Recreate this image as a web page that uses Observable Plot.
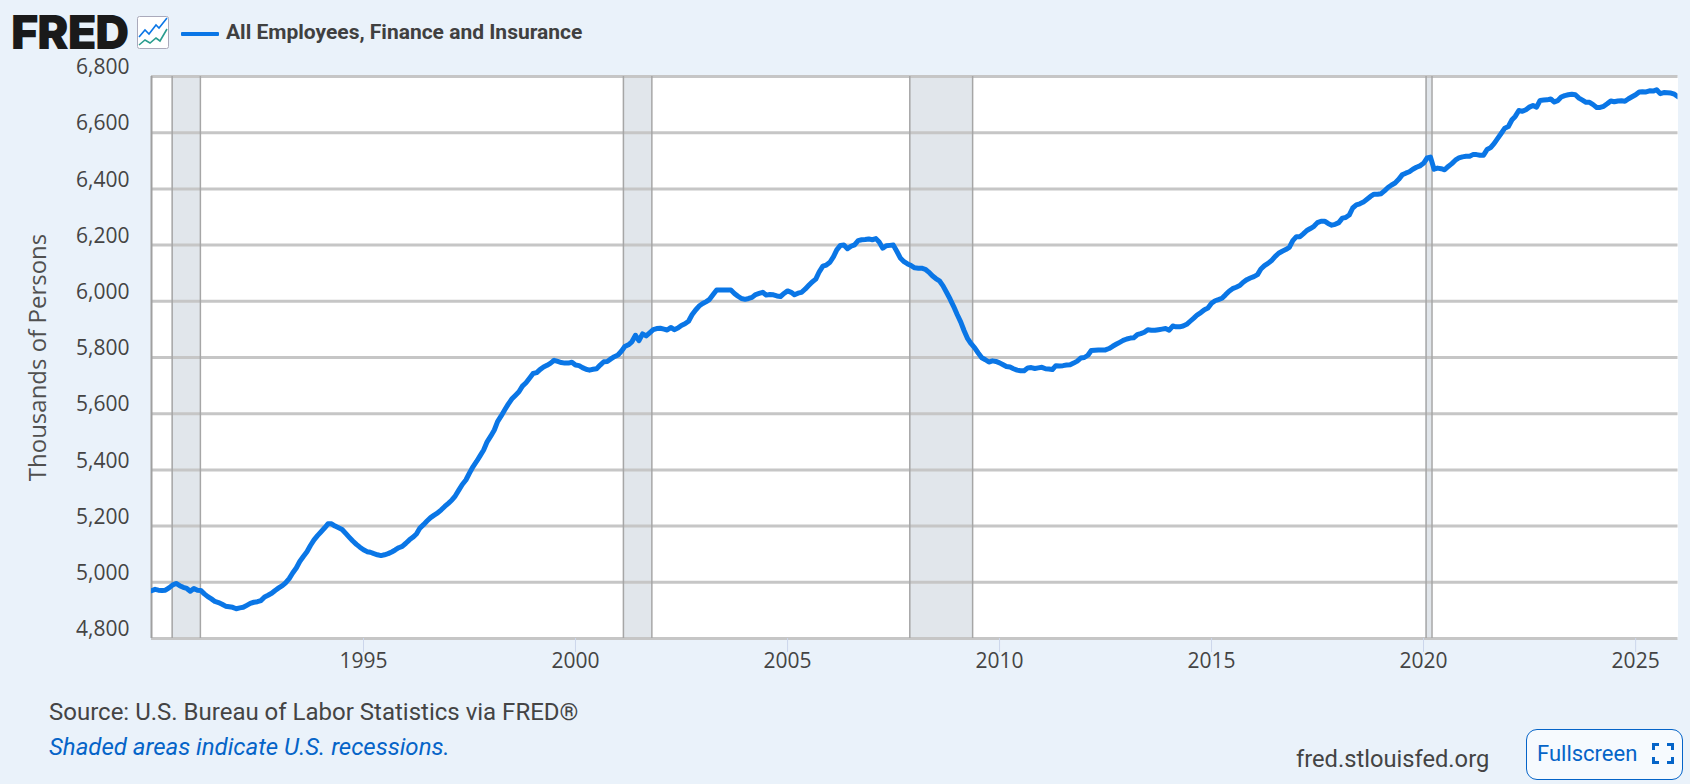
<!DOCTYPE html>
<html>
<head>
<meta charset="utf-8">
<script src="https://cdn.jsdelivr.net/npm/d3@7"></script>
<script src="https://cdn.jsdelivr.net/npm/@observablehq/plot@0.6"></script>
<style>
  html, body { margin: 0; padding: 0; background: #eaf2fa; }
  #page { position: relative; width: 1690px; height: 784px; overflow: hidden; background: #eaf2fa; font-family: Roboto, sans-serif; }
  #page > * { position: absolute; }
  #logo { left: 11px; top: 15px; font: 900 47px/34px Inter, Roboto, sans-serif; letter-spacing: -1.1px; color: #1a1a1a; }
  #icon { left: 137px; top: 16px; width: 32px; height: 33px; }
  #swatch { left: 181px; top: 31.5px; width: 38px; height: 4.5px; background: #0a76e6; border-radius: 1px; }
  #title { left: 226px; top: 20px; font: 700 21px/24px Roboto, sans-serif; color: #404040; white-space: nowrap; }
  #chart { left: 0; top: 50px; }
  #source { left: 49px; top: 698px; font: 400 24px/28px Roboto, sans-serif; color: #444; white-space: nowrap; }
  #shaded { left: 49px; top: 733px; font: italic 400 24px/28px Roboto, sans-serif; color: #0564c8; white-space: nowrap; }
  #site { left: 1296px; top: 746px; font: 400 23.7px/26px Roboto, sans-serif; color: #444; white-space: nowrap; }
  #full { left: 1526px; top: 729px; width: 155px; height: 49px; box-sizing: content-box; border: 1px solid #0564c8; border-radius: 11px; background: #f6fafe; }
  #full span { position: absolute; left: 10px; top: 11px; font: 400 22px/26px Roboto, sans-serif; color: #0564c8; white-space: nowrap; }
  #full svg { position: absolute; left: 125px; top: 13px; width: 22px; height: 21px; }
</style>
</head>
<body>
<div id="page">
  <div id="logo">FRED</div>
  <svg id="icon" viewBox="0 0 32 33">
    <rect x="0.5" y="0.5" width="31" height="32" rx="2" fill="#fff" stroke="#aab"/>
    <polyline points="2,21 8,14 12,18 19,9 22,12 30,2" fill="none" stroke="#0a76e6" stroke-width="1.6"/>
    <polyline points="2,29 8,24 13,27 19,22 23,25 30,13" fill="none" stroke="#2a9d8f" stroke-width="1.6"/>
  </svg>
  <div id="swatch"></div>
  <div id="title">All Employees, Finance and Insurance</div>
  <div id="chart"></div>
  <div id="source">Source: U.S. Bureau of Labor Statistics via FRED®</div>
  <div id="shaded">Shaded areas indicate U.S. recessions.</div>
  <div id="site">fred.stlouisfed.org</div>
  <div id="full"><span>Fullscreen</span>
    <svg viewBox="0 0 22 21"><path d="M1.5 7V1.5H7M15 1.5H20.5V7M20.5 14V19.5H15M7 19.5H1.5V14" fill="none" stroke="#0564c8" stroke-width="3"/></svg>
  </div>
</div>
<script>
const startYear = 1990;
const values1990s = [
  4970,4975,4972,4971,4972,4980,4990,4996,4988,4982,4978,4968,
  4978,4972,4971,4959,4949,4941,4932,4928,4922,4915,4913,4911,
  4906,4909,4911,4918,4925,4929,4931,4935,4948,4954,4961,4971,
  4980,4988,4998,5013,5033,5051,5074,5092,5109,5131,5151,5166,
  5180,5194,5208,5208,5200,5194,5188,5174,5160,5147,5135,5125,
  5116,5109,5107,5102,5098,5095,5098,5102,5108,5115,5123,5128,
  5139,5151,5160,5172,5193,5205,5218,5230,5239,5247,5258,5270,
  5281,5293,5307,5328,5348,5364,5388,5411,5430,5450,5471,5500,
  5520,5542,5572,5592,5613,5634,5652,5665,5678,5698,5710,5726,
  5743,5746,5757,5766,5772,5780,5790,5786,5782,5780,5780,5783
];
const values2000s = [
  5773,5771,5764,5758,5755,5758,5760,5773,5785,5786,5795,5803,
  5809,5823,5839,5845,5856,5879,5860,5884,5877,5888,5899,5903,
  5904,5901,5898,5907,5899,5905,5914,5920,5929,5952,5969,5983,
  5992,5999,6007,6024,6040,6040,6040,6040,6040,6028,6018,6010,
  6007,6010,6014,6024,6028,6032,6022,6024,6023,6019,6017,6028,
  6037,6032,6023,6029,6032,6043,6056,6069,6079,6105,6125,6129,
  6139,6159,6183,6199,6200,6187,6196,6201,6216,6219,6220,6222,
  6219,6223,6211,6189,6198,6199,6200,6177,6153,6141,6133,6127,
  6119,6118,6118,6114,6104,6091,6081,6073,6055,6032,6008,5982,
  5953,5926,5896,5867,5849,5834,5816,5799,5792,5784,5788,5786
];
const values2010s = [
  5781,5774,5768,5766,5760,5755,5753,5753,5763,5764,5761,5763,
  5765,5760,5759,5757,5771,5770,5771,5773,5774,5780,5787,5798,
  5800,5808,5825,5826,5827,5827,5827,5832,5840,5847,5854,5861,
  5866,5869,5870,5881,5885,5890,5899,5897,5897,5899,5901,5903,
  5897,5912,5909,5909,5912,5918,5929,5940,5952,5960,5970,5976,
  5993,6002,6006,6011,6023,6036,6045,6050,6056,6068,6077,6083,
  6088,6095,6115,6127,6135,6145,6159,6171,6178,6184,6192,6216,
  6230,6230,6240,6252,6259,6267,6280,6285,6285,6277,6271,6274,
  6280,6296,6298,6307,6332,6343,6347,6353,6363,6373,6381,6381,
  6383,6394,6405,6414,6421,6434,6450,6456,6461,6470,6477,6482
];
const values2020s = [
  6491,6510,6513,6470,6474,6472,6468,6480,6490,6502,6510,6514,
  6516,6516,6522,6522,6520,6520,6540,6547,6562,6580,6598,6616,
  6622,6646,6658,6679,6676,6682,6691,6697,6691,6715,6716,6717,
  6720,6709,6714,6727,6732,6735,6737,6735,6723,6716,6708,6708,
  6700,6690,6690,6694,6703,6713,6710,6713,6714,6712,6721,6728,
  6735,6745,6746,6745,6749,6748,6753,6739,6743,6742,6741,6737,
  6728
];
const recessionStarts = ["1990-06-28","2001-02-17","2007-11-20","2020-01-23"];
const recessionEnds   = ["1991-02-26","2001-10-20","2009-05-14","2020-03-14"];
const yTicks = [4800,5000,5200,5400,5600,5800,6000,6200,6400,6600,6800];
const xTickYears = [1995,2000,2005,2010,2015,2020,2025];
const xDomain = ["1990-01-01","2026-01-01"];
const yDomain = [4800,6800];

const series = [...values1990s, ...values2000s, ...values2010s, ...values2020s]
  .map((value, i) => ({date: new Date(Date.UTC(startYear, i, 1)), value}));
const recessions = recessionStarts.map((s, i) => ({start: new Date(s), end: new Date(recessionEnds[i])}));
const recessionEdges = recessions.flatMap(r => [r.start, r.end]);
const xTicks = xTickYears.map(y => new Date(Date.UTC(y, 0, 1)));
const axisFont = "'Open Sans', sans-serif";

const chart = Plot.plot({
  width: 1690,
  height: 650,
  marginLeft: 151,
  marginRight: 12.5,
  marginTop: 26,
  marginBottom: 62,
  style: {background: "transparent", fontFamily: axisFont},
  x: {type: "utc", domain: xDomain.map(d => new Date(d))},
  y: {domain: yDomain},
  marks: [
    Plot.frame({fill: "#fff", stroke: null}),
    Plot.rectX(recessions, {x1: "start", x2: "end", fill: "#e1e6eb"}),
    Plot.ruleY(yTicks, {stroke: "#c6c6c6", strokeWidth: 3}),
    Plot.ruleX(recessionEdges, {stroke: "#a6a6a6", strokeWidth: 1.5}),
    Plot.ruleX([new Date(xDomain[0])], {stroke: "#a0a0a0", strokeWidth: 2}),
    Plot.line(series, {x: "date", y: "value", stroke: "#0a76e6", strokeWidth: 5, strokeLinejoin: "round", strokeLinecap: "round", clip: true}),
    Plot.axisX({
      ticks: xTicks, tickFormat: d3.utcFormat("%Y"), tickSize: 14, tickPadding: 1,
      stroke: "#ccd6eb", fill: "#444", fontSize: 21, label: null
    }),
    Plot.axisY({
      ticks: yTicks, tickFormat: d3.format(","), tickSize: 0, tickPadding: 22, dy: -9,
      fill: "#444", fontSize: 21, label: null
    }),
    Plot.text(["Thousands of Persons"], {
      frameAnchor: "left", textAnchor: "middle", rotate: -90, dx: -113, fontSize: 24, fill: "#505050"
    })
  ]
});
document.getElementById("chart").appendChild(chart);
</script>
</body>
</html>
